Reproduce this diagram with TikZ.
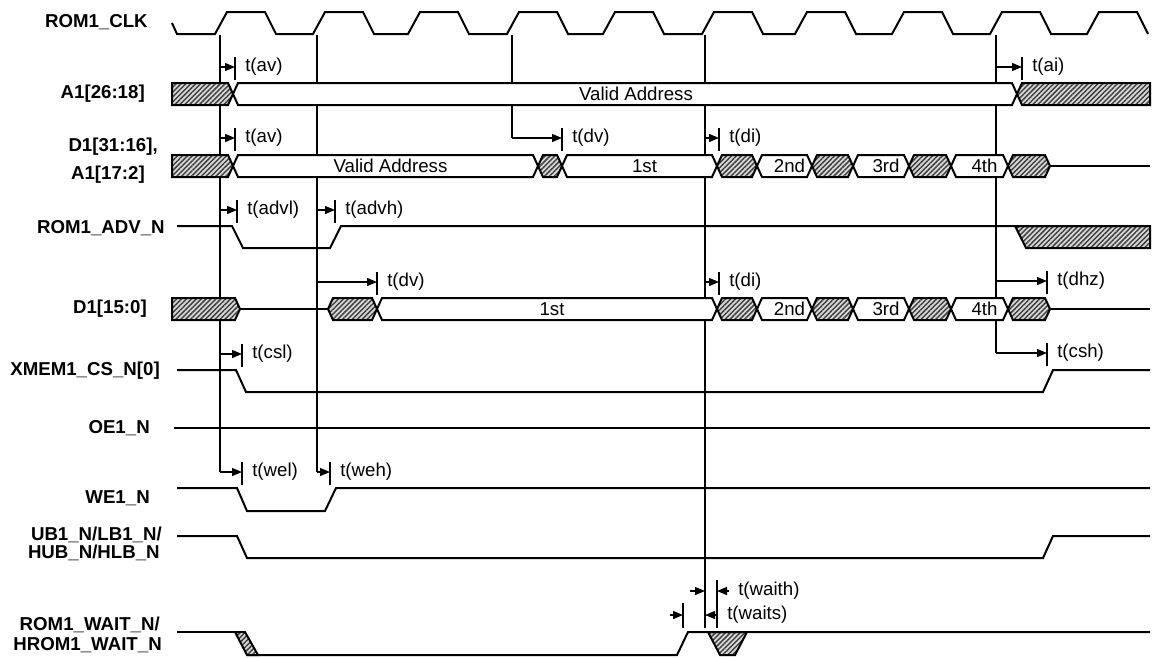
\documentclass[tikz,border=0pt]{standalone}
\usepackage{fontspec}
\setmainfont{Liberation Sans}
\usetikzlibrary{calc, patterns.meta, arrows.meta}

\tikzset{
    sig/.style = {black, line width = 1.5pt},
    bus/.style = {black, line width = 1.5pt, fill = white},
    hatch/.style = {black, line width = 1.5pt, preaction = {fill = gray!30},
        pattern = {Lines[angle = 45, distance = 2.6pt, line width = 1.1pt]},
        pattern color = gray!50!black},
    vref/.style = {black, line width = 0.9pt},
    tarr/.style = {black, line width = 0.9pt, -{Triangle[length = 7.5pt, width = 6pt]}},
    tbar/.style = {black, line width = 0.9pt},
    lbl/.style = {anchor = east, inner sep = 0pt, font = \fontsize{14}{16}\selectfont\bfseries},
    tlbl/.style = {anchor = west, inner sep = 0pt, font = \fontsize{14}{16}\selectfont},
    val/.style = {inner sep = 0pt, font = \fontsize{14}{16}\selectfont}
}

\begin{document}
\begin{tikzpicture}[x = 0.75pt, y = -0.75pt]
            \useasboundingbox (0, 0) rectangle (1152, 657);

            % signal names
            \node[lbl] (n_clk) at (148, 22) {ROM1\_CLK};
            \node[lbl] (n_addr) at (145, 94) {A1[26:18]};
            \node[lbl] (n_data_a) at (158, 147) {D1[31:16],};
            \node[lbl] (n_data_b) at (145, 175) {A1[17:2]};
            \node[lbl] (n_adv) at (165, 228) {ROM1\_ADV\_N};
            \node[lbl] (n_data) at (147, 309) {D1[15:0]};
            \node[lbl] (n_cs) at (160, 371) {XMEM1\_CS\_N[0]};
            \node[lbl] (n_oe) at (150, 428) {OE1\_N};
            \node[lbl] (n_we) at (150, 498) {WE1\_N};
            \node[lbl] (n_ub_a) at (162, 535) {UB1\_N/LB1\_N/};
            \node[lbl] (n_ub_b) at (160, 553) {HUB\_N/HLB\_N};
            \node[lbl] (n_wait_a) at (160, 625) {ROM1\_WAIT\_N/};
            \node[lbl] (n_wait_b) at (162, 645) {HROM1\_WAIT\_N};

            % clock
            \draw[sig] (172, 23) -- (177, 34)
                \foreach \r in {215, 313, 408, 507, 603, 702, 795, 892, 990, 1087} {
                    -- (\r, 34) -- (\r + 12, 12) -- (\r + 50, 12) -- (\r + 61, 34)
                };

            % reference edges
            \coordinate (e1) at (220, 35);
            \coordinate (e2) at (317, 35);
            \coordinate (e3) at (512, 35);
            \coordinate (e4) at (705, 35);
            \coordinate (e5) at (996, 35);
            \draw[vref] (e1) -- ($(e1) + (0, 437)$);
            \draw[vref] (e2) -- ($(e2) + (0, 437)$);
            \draw[vref] (e3) -- ($(e3) + (0, 103)$);
            \draw[vref] (e4) -- ($(e4) + (0, 593)$);
            \draw[vref] (e5) -- ($(e5) + (0, 318)$);

            % A1[26:18]
            \draw[hatch] (172, 83) -- (228, 83) -- (233, 94) -- (228, 105) -- (172, 105) -- cycle;
            \draw[bus] (233, 94) -- (238, 83) -- (1012, 83) -- (1017, 94) -- (1012, 105) -- (238, 105) -- cycle;
            \draw[hatch] (1017, 94) -- (1022, 83) -- (1150, 83) -- (1150, 105) -- (1022, 105) -- cycle;
            \node[val] (v_addr) at (636, 94) {Valid Address};

            % D1[31:16] and D1[15:0]
            \draw[hatch] (172, 155) -- (228, 155) -- (233, 166) -- (228, 177) -- (172, 177) -- cycle;
            \draw[hatch] (172, 298) -- (235, 298) -- (240, 309) -- (235, 320) -- (172, 320) -- cycle;
            \draw[sig] (240, 309) -- (328, 309);
            \foreach \yy/\a/\b in {166/538/562, 309/328/377, 166/717/757, 166/812/853, 166/909/951, 166/1008/1050,
                                   309/717/757, 309/812/853, 309/909/951, 309/1008/1050} {
                \draw[hatch] (\a, \yy) -- (\a + 5, \yy - 11) -- (\b - 5, \yy - 11) -- (\b, \yy)
                    -- (\b - 5, \yy + 11) -- (\a + 5, \yy + 11) -- cycle;
            }
            \foreach \yy/\a/\b/\w in {166/233/538/Valid Address, 166/562/717/1st, 309/377/717/1st,
                                      166/757/812/2nd, 166/853/909/3rd, 166/951/1008/4th,
                                      309/757/812/2nd, 309/853/909/3rd, 309/951/1008/4th} {
                \draw[bus] (\a, \yy) -- (\a + 5, \yy - 11) -- (\b - 5, \yy - 11) -- (\b, \yy)
                    -- (\b - 5, \yy + 11) -- (\a + 5, \yy + 11) -- cycle;
                \node[val] (s\yy-\a) at ({(\a + \b) / 2 + 5}, \yy) {\w};
            }
            \draw[sig] (1050, 166) -- (1150, 166);
            \draw[sig] (1050, 309) -- (1150, 309);

            % ROM1_ADV_N
            \draw[hatch] (1015, 226) -- (1150, 226) -- (1150, 248) -- (1026, 248) -- cycle;
            \draw[sig] (177, 226) -- (232, 226) -- (243, 248) -- (330, 248) -- (341, 226) -- (1150, 226);

            % XMEM1_CS_N[0], OE1_N, WE1_N, UB1_N
            \draw[sig] (177, 370) -- (236, 370) -- (246, 392) -- (1043, 392) -- (1053, 370) -- (1150, 370);
            \draw[sig] (174, 428) -- (1150, 428);
            \draw[sig] (177, 488) -- (237, 488) -- (247, 511) -- (325, 511) -- (336, 488) -- (1150, 488);
            \draw[sig] (177, 536) -- (237, 536) -- (247, 558) -- (1043, 558) -- (1053, 536) -- (1150, 536);

            % ROM1_WAIT_N
            \draw[hatch] (235, 632) -- (245, 632) -- (258, 655) -- (247, 655) -- cycle;
            \draw[hatch] (708, 632) -- (747, 632) -- (735, 655) -- (720, 655) -- cycle;
            \draw[sig] (177, 632) -- (235, 632);
            \draw[sig] (247, 655) -- (677, 655) -- (688, 632) -- (1150, 632);

            % timing marks
            \foreach \xs/\yy/\xt/\tname [count = \i] in {220/67/235/av, 996/67/1022/ai, 220/138/235/av,
                    512/138/562/dv, 705/138/719/di, 220/210/237/advl, 317/210/335/advh, 317/282/377/dv,
                    705/282/719/di, 996/281/1047/dhz, 220/354/242/csl, 996/353/1047/csh,
                    220/472/242/wel, 317/472/330/weh} {
                \draw[tarr] (\xs, \yy) -- (\xt, \yy);
                \draw[tbar] (\xt, \yy - 10) -- (\xt, \yy + 13);
                \node[tlbl] (t\i) at (\xt + 10, \yy) {t(\tname)};
            }

            \draw[tarr] (690, 591) -- (705, 591);
            \draw[tarr] (729, 591) -- (717, 591);
            \draw[tbar] (717, 580) -- (717, 628);
            \node[tlbl] (t_waith) at (738, 591) {t(waith)};
            \draw[tarr] (670, 615) -- (683, 615);
            \draw[tbar] (683, 603) -- (683, 628);
            \draw[tarr] (718, 615) -- (705, 615);
            \node[tlbl] (t_waits) at (727, 615) {t(waits)};

        \end{tikzpicture}
\end{document}
